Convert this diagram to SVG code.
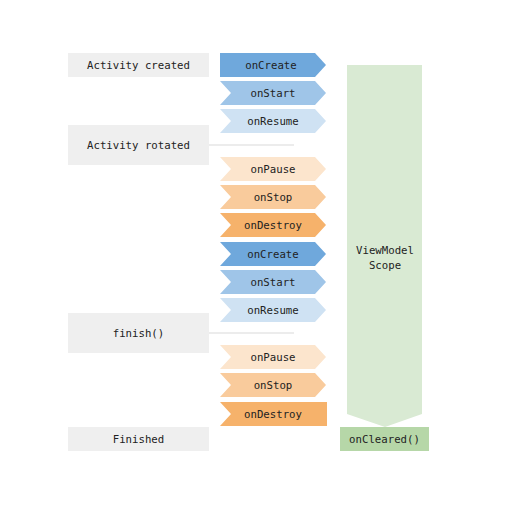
<svg xmlns="http://www.w3.org/2000/svg" width="513" height="532" viewBox="0 0 513 532">
<style>
text{font-family:"DejaVu Sans Mono","Liberation Mono",monospace;font-size:10.7px;fill:#222;text-anchor:middle;dominant-baseline:central}
.g{fill:#efefef}
.c1{fill:#6fa8dc}.c2{fill:#9fc5e8}.c3{fill:#cfe2f3}
.o1{fill:#fce5cd}.o2{fill:#f9cb9c}.o3{fill:#f6b26b}
.ln{stroke:#d9d9d9;stroke-width:1;fill:none}
</style>
<rect width="513" height="532" fill="#fff"/>
<g id="connectors">
<line class="ln" x1="209" y1="145" x2="294" y2="145"/>
<line class="ln" x1="209" y1="333" x2="294" y2="333"/>
</g>
<g id="activity-created"><rect class="g" x="68" y="53" width="141" height="24"/><text x="138.5" y="65">Activity created</text></g>
<g id="activity-rotated"><rect class="g" x="68" y="125" width="141" height="40"/><text x="138.5" y="145">Activity rotated</text></g>
<g id="finish"><rect class="g" x="68" y="313" width="141" height="40"/><text x="138.5" y="333">finish()</text></g>
<g id="finished"><rect class="g" x="68" y="427" width="141" height="24"/><text x="138.5" y="439">Finished</text></g>

<g id="onCreate1"><path class="c1" d="M220 53H315L326 65L315 77H220Z"/><text x="271" y="65">onCreate</text></g>
<g id="onStart1"><path class="c2" d="M220 81H315L326 93L315 105H220L231 93Z"/><text x="273" y="93">onStart</text></g>
<g id="onResume1"><path class="c3" d="M220 109H315L326 121L315 133H220L231 121Z"/><text x="273" y="121">onResume</text></g>
<g id="onPause1"><path class="o1" d="M220 157H315L326 169L315 181H220L231 169Z"/><text x="273" y="169">onPause</text></g>
<g id="onStop1"><path class="o2" d="M220 185H315L326 197L315 209H220L231 197Z"/><text x="273" y="197">onStop</text></g>
<g id="onDestroy1"><path class="o3" d="M220 213H315L326 225L315 237H220L231 225Z"/><text x="273" y="225">onDestroy</text></g>
<g id="onCreate2"><path class="c1" d="M220 242H315L326 254L315 266H220L231 254Z"/><text x="273" y="254">onCreate</text></g>
<g id="onStart2"><path class="c2" d="M220 270H315L326 282L315 294H220L231 282Z"/><text x="273" y="282">onStart</text></g>
<g id="onResume2"><path class="c3" d="M220 298H315L326 310L315 322H220L231 310Z"/><text x="273" y="310">onResume</text></g>
<g id="onPause2"><path class="o1" d="M220 345H315L326 357L315 369H220L231 357Z"/><text x="273" y="357">onPause</text></g>
<g id="onStop2"><path class="o2" d="M220 373H315L326 385L315 397H220L231 385Z"/><text x="273" y="385">onStop</text></g>
<g id="onDestroy2"><path class="o3" d="M220 402H327V426H220L231 414Z"/><text x="273" y="414">onDestroy</text></g>

<g id="viewmodel-scope"><path fill="#d9ead3" d="M347 65H422V414L385 427L347 414Z"/><text x="385" y="250">ViewModel</text><text x="385" y="265">Scope</text></g>
<g id="onCleared"><rect fill="#b6d7a8" x="340" y="427" width="89" height="24"/><text x="384.5" y="439">onCleared()</text></g>
</svg>
